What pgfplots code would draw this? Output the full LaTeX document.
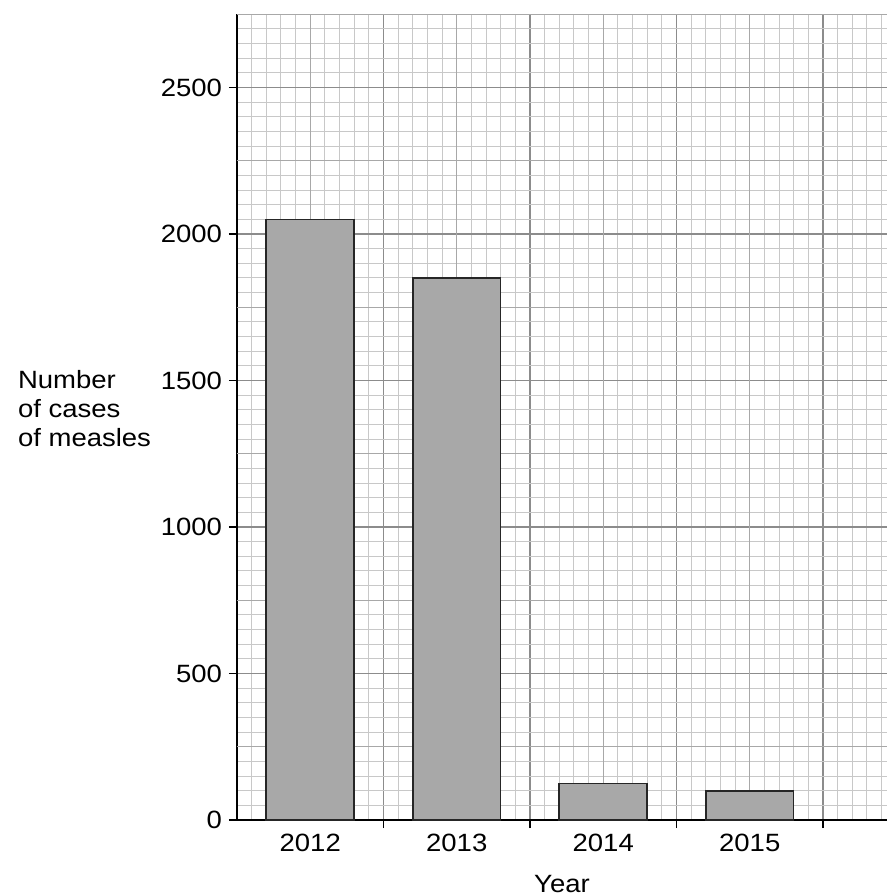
\documentclass[border=0pt]{standalone}
\usepackage{pgfplots}
\pgfplotsset{compat=1.18}
\usepackage{fontspec}
\setmainfont[FakeStretch=1.1]{Liberation Sans}
\definecolor{barfill}{HTML}{A8A8A8}
\definecolor{minorgrid}{HTML}{C8C8C8}
\definecolor{midgrid}{HTML}{A8A8A8}
\definecolor{majorgrid}{HTML}{8C8C8C}
\begin{document}
\begin{tikzpicture}
\useasboundingbox (-118.5pt,-38pt) rectangle (325pt,410pt);
\begin{axis}[
  name=ax,
  at={(0,0)}, anchor=south west,
  scale only axis,
  width=325pt, height=402.9pt,
  xmin=0, xmax=4.437, ymin=0, ymax=2750,
  axis x line=bottom, axis y line=left,
  axis line style={-, black, line width=0.9pt},
  font=\fontsize{12.5}{14.5}\selectfont,
  /pgf/number format/assume math mode=true,
  /pgf/number format/1000 sep={},
  xtick={1,2,3,4}, xticklabels={},
  ytick={0,500,...,2500},
  minor xtick={0,0.1,...,4.41},
  minor ytick={0,50,...,2750},
  extra x ticks={0.5,1.5,2.5,3.5},
  extra x tick labels={2012,2013,2014,2015},
  extra x tick style={major tick length=0pt, major grid style={midgrid, line width=0.6pt},
    xticklabel style={yshift=-3.5pt}},
  extra y ticks={250,750,...,2750},
  extra y tick labels={},
  extra y tick style={major tick length=0pt, major grid style={midgrid, line width=0.6pt}},
  tick align=outside,
  major tick length=4pt,
  tick style={black, line width=0.6pt},
  minor tick length=0pt,
  grid=both,
  minor grid style={minorgrid, line width=0.45pt},
  major grid style={majorgrid, line width=0.9pt},
  xlabel={Year},
  xlabel style={yshift=-1pt},
  ylabel={Number\\of cases\\of measles},
  ylabel style={rotate=-90, align=left, anchor=west, at={(rel axis cs:0,0.51)}, xshift=-113pt},
]
\addplot[ybar, bar width=0.6, fill=barfill, draw=black!85, line width=0.8pt]
  coordinates {(0.5,2050) (1.5,1850) (2.5,125) (3.5,100)};
\end{axis}
\end{tikzpicture}
\end{document}
